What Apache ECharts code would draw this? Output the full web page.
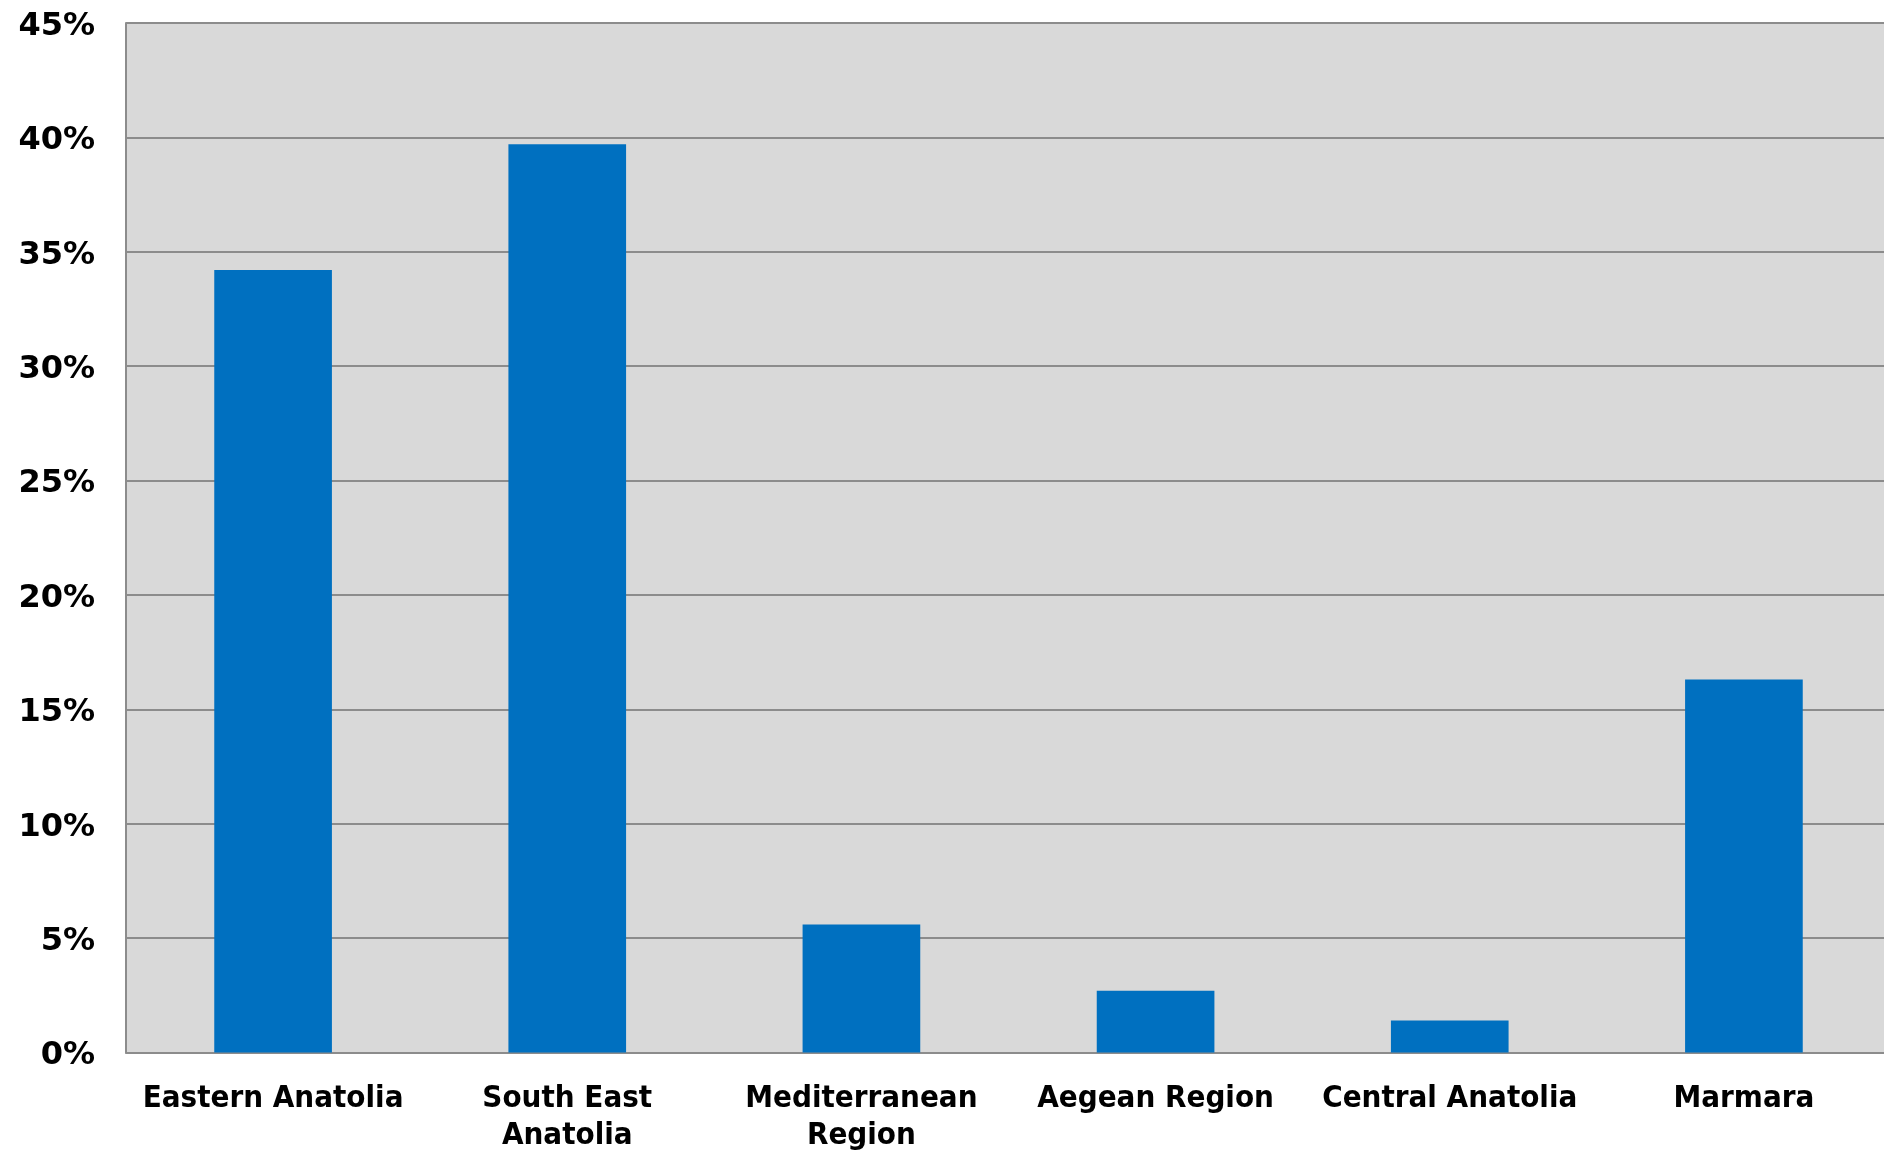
<!DOCTYPE html>
<html>
<head>
<meta charset="utf-8">
<script src="https://cdn.jsdelivr.net/npm/echarts@6/dist/echarts.min.js"></script>
<style>
html,body{margin:0;padding:0;background:#fff;}
#chart{width:1884px;height:1151px;}
</style>
</head>
<body>
<div id="chart"></div>
<script>
const categories = ['Eastern Anatolia', 'South East\nAnatolia', 'Mediterranean\nRegion', 'Aegean Region', 'Central Anatolia', 'Marmara'];
const shares = [34.2, 39.7, 5.6, 2.7, 1.4, 16.3];
const yTicks = [0, 5, 10, 15, 20, 25, 30, 35, 40, 45];

const chart = echarts.init(document.getElementById('chart'), null, {renderer: 'canvas'});
chart.setOption({
  animation: false,
  backgroundColor: '#ffffff',
  grid: {left: 126, right: -7, top: 23, bottom: 98.5, outerBoundsMode: 'none', containLabel: false,
         show: true, backgroundColor: '#D9D9D9', borderWidth: 0},
  xAxis: {
    type: 'category',
    data: categories,
    axisLine: {show: true, lineStyle: {color: '#8C8C8C', width: 2}},
    axisTick: {show: false},
    axisLabel: {
      color: '#000', fontFamily: '"DejaVu Sans Condensed", "DejaVu Sans"', fontWeight: 'bold', fontSize: 31,
      lineHeight: 37, margin: 28, interval: 0
    }
  },
  yAxis: {
    type: 'value',
    min: yTicks[0], max: yTicks[yTicks.length - 1], interval: 5,
    axisLine: {show: true, lineStyle: {color: '#8C8C8C', width: 2}},
    axisTick: {show: false},
    splitLine: {show: true, lineStyle: {color: '#8C8C8C', width: 2}},
    axisLabel: {
      color: '#000', fontFamily: 'DejaVu Sans', fontWeight: 'bold', fontSize: 32,
      margin: 31, formatter: v => '{v|' + v + '%}',
      rich: {v: {color: '#000', fontFamily: 'DejaVu Sans', fontWeight: 'bold', fontSize: 32, padding: [7, 0, 0, 0]}}
    }
  },
  series: [{
    type: 'bar',
    data: shares,
    barWidth: '40%',
    itemStyle: {color: '#0070C0'}
  }]
});
</script>
</body>
</html>
